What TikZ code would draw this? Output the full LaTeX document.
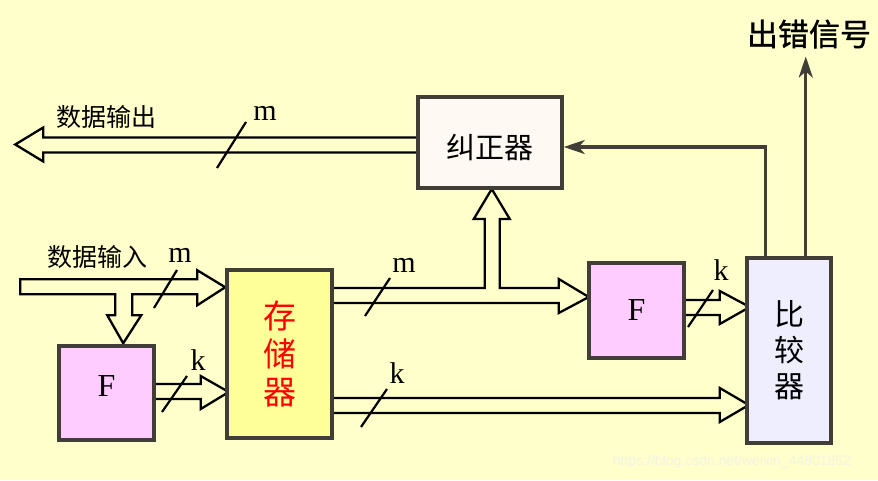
\documentclass[tikz,border=0pt]{standalone}
\usepackage{fontspec}
\setmainfont{Liberation Serif}
\setsansfont{Liberation Sans}
\newfontfamily\cjk{Noto Sans CJK SC}
\newfontfamily\cjkbf[FakeBold=1.2]{Noto Sans CJK SC}
\usepackage{tikz}
\usetikzlibrary{positioning, arrows.meta, calc}
\usepackage{xcolor}
\definecolor{bgyellow}{HTML}{FFFFCC}
\definecolor{edgegray}{HTML}{403E36}
\definecolor{corfill}{HTML}{FFF9F3}
\definecolor{memfill}{HTML}{FFFF99}
\definecolor{ffill}{HTML}{FFCCFF}
\definecolor{cmpfill}{HTML}{EEEEFF}
\definecolor{wmgray}{HTML}{F4F3E4}
\pgfdeclarelayer{bg}
\pgfsetlayers{bg,main}

\begin{document}
\begin{tikzpicture}[x=1pt, y=-1pt,
  blk/.style={draw=edgegray, line width=3.5pt, inner sep=0pt},
  fat/.style={draw=black, line width=2.3pt, fill=bgyellow, line join=miter},
  thinline/.style={draw=edgegray, line width=3.3pt, -{Stealth[length=21pt, width=14pt, inset=6pt]}},
  slash/.style={black, line width=2.2pt},
  cjklabel/.style={font=\cjk\fontsize{25}{30}\selectfont, inner sep=2pt},
  latlabel/.style={font=\fontsize{30}{30}\selectfont, inner sep=0pt}]
\useasboundingbox (0,0) rectangle (878,480);

% blocks
\node[blk, fill=corfill, minimum width=144pt, minimum height=91pt, text height=31pt, text depth=0pt,
  font=\cjk\fontsize{29}{34}\selectfont] (cor) at (490,142.5) {纠正器};
\node[blk, fill=memfill, minimum width=105pt, minimum height=168pt, align=center,
  text=red, font=\cjk\fontsize{33}{38}\selectfont] (mem) at (279.5,354) {存\\储\\器};
\node[blk, fill=ffill, minimum width=95pt, minimum height=94pt, text height=22pt, text depth=15pt,
  font=\fontsize{32}{32}\selectfont] (fin) at (106.5,393) {F};
\node[blk, fill=ffill, minimum width=95pt, minimum height=95pt,
  font=\fontsize{32}{32}\selectfont] (fout) at (636.5,310.5) {F};
\node[blk, fill=cmpfill, minimum width=84pt, minimum height=185pt, align=center,
  font=\cjk\fontsize{30}{36}\selectfont] (cmp) at (789,350.5) {比\\较\\器};

% labels
\node[cjklabel] (outlbl) at (106,117) {数据输出};
\node[cjklabel] (inlbl) at (97,257) {数据输入};
\node[font=\cjkbf\fontsize{31}{36}\selectfont, inner sep=2pt] (err) at (809,34) {出错信号};
\node[latlabel] (mout) at (265,113) {m};
\node[latlabel] (min) at (180,255) {m};
\node[latlabel] (kin) at (198,360) {k};
\node[latlabel] (mmem) at (404,265) {m};
\node[latlabel] (kout) at (721,270) {k};
\node[latlabel] (kmem) at (397,373) {k};
\node[font=\sffamily\fontsize{14}{14}\selectfont, text=wmgray, inner sep=0pt] (wm) at (732,462) {https://blog.csdn.net/weixin\_44801852};

\begin{pgfonlayer}{bg}
\fill[bgyellow] (0,0) rectangle (878,480);
% data out
\draw[fat] ($(cor.west)+(0,-5)$) -- ++(-373,0) -- ++(0,-10) -- ++(-28,17) -- ++(28,17) -- ++(0,-9) -- ++(373,0);
% data in, with branch to F
\draw[fat] ($(mem.north west)+(0,19)$) -- ++(-28,-17) -- ++(0,9) -- ++(-177,0) -- ++(0,15) -- ++(95,0)
  -- ++(0,21) -- ++(-8,0) -- ++(16,28) -- ++(18,-28) -- ++(-9,0) -- ++(0,-21) -- ++(65,0) -- ++(0,11) -- cycle;
% F -> memory
\draw[fat] ($(fin.east)+(0,-9)$) -- ++(45,0) -- ++(0,-8) -- ++(28,16) -- ++(-28,17) -- ++(0,-10) -- ++(-45,0);
% memory -> F and corrector
\draw[fat] ($(mem.east)+(0,-66)$) -- ++(151,0) -- ++(0,-69) -- ++(-11,0) -- ++(18,-30) -- ++(18,30) -- ++(-10,0)
  -- ++(0,69) -- ++(59,0) -- ++(0,-9) -- ++(30,18) -- ++(-30,16) -- ++(0,-10) -- ++(-225,0);
% F -> comparator
\draw[fat] ($(fout.east)+(0,-10.5)$) -- ++(34,0) -- ++(0,-9) -- ++(30,16) -- ++(-30,17) -- ++(0,-9) -- ++(-34,0);
% memory -> comparator
\draw[fat] ($(mem.east)+(0,44)$) -- ++(386,0) -- ++(0,-10) -- ++(29,17) -- ++(-29,17) -- ++(0,-9) -- ++(-386,0);
\end{pgfonlayer}

% comparator outputs
\draw[thinline] ($(cmp.north west)+(20,0)$) |- ($(cor.east)+(0,4.5)$);
\draw[thinline] ($(cmp.north east)+(-27,0)$) coordinate (e0) -- ($(e0 |- err.south)+(0,6)$);

% bus widths
\draw[slash] (217,168) -- (246,122);
\draw[slash] (154,308) -- (177,270);
\draw[slash] (162,412) -- (187,376);
\draw[slash] (365,316) -- (390,278);
\draw[slash] (688,327) -- (713,290);
\draw[slash] (361,427) -- (387,389);
\end{tikzpicture}
\end{document}
